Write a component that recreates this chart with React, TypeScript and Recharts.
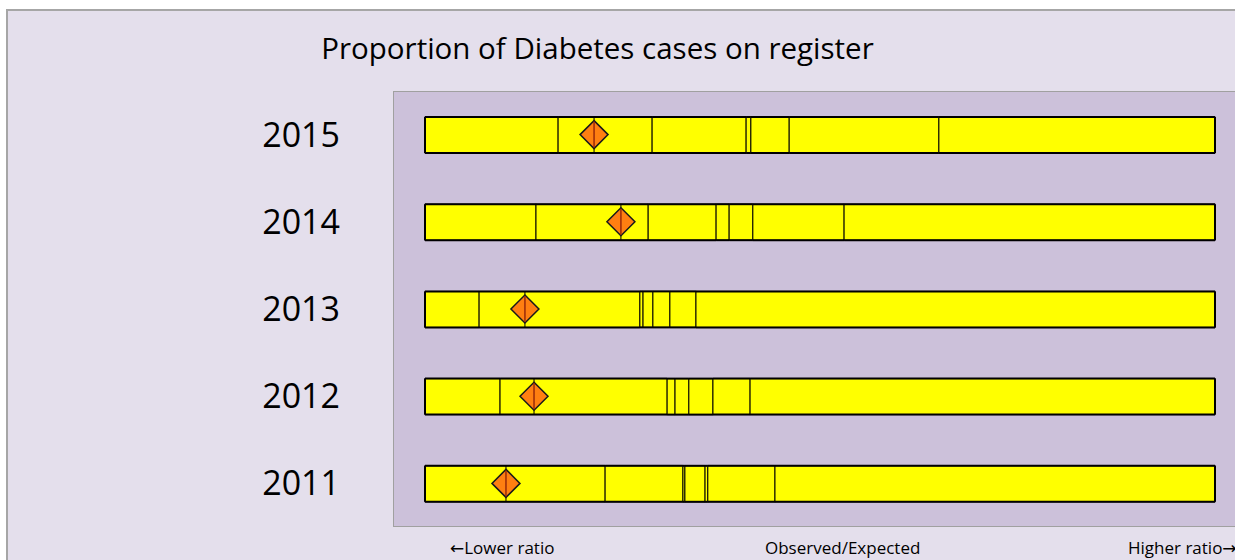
import { ComposedChart, Bar, Line, XAxis, YAxis, CartesianGrid } from 'recharts';

// rows top to bottom
const years = ['2015', '2014', '2013', '2012', '2011'];

// segment boundaries (observed/expected ratio), one array per boundary
const limit1 = [0.337, 0.281, 0.137, 0.19, 0.456];
const limit2 = [0.575, 0.565, 0.544, 0.613, 0.653];
const limit3 = [0.813, 0.737, 0.552, 0.633, 0.658];
const limit4 = [0.825, 0.77, 0.577, 0.668, 0.709];
const limit5 = [0.922, 0.83, 0.62, 0.729, 0.716];
const limit6 = [1.301, 1.061, 0.686, 0.823, 0.886];
const upperEnd = [2, 2, 2, 2, 2];

// practice value (diamond)
const observed = [0.428, 0.496, 0.253, 0.276, 0.205];

const bounds = [limit1, limit2, limit3, limit4, limit5, limit6, upperEnd];
const segKeys = ['s1', 's2', 's3', 's4', 's5', 's6', 's7'];

const data = years.map((year, i) => {
  const row: Record<string, number | string> = { year, observed: observed[i] };
  let prev = 0;
  bounds.forEach((b, k) => {
    row[segKeys[k]] = b[i] - prev;
    prev = b[i];
  });
  return row;
});

const FONT = '"Open Sans", "DejaVu Sans", sans-serif';

// segment with a heavier outline along the outside of the whole bar
function segmentShape(first: boolean, last: boolean) {
  return (props: any) => {
    const { x, y, width, height } = props;
    if (width == null || height == null) return null;
    return (
      <g>
        <rect x={x} y={y} width={width} height={height} fill="#FFFF00" stroke="#000" strokeWidth={1} />
        <line x1={x} x2={x + width} y1={y} y2={y} stroke="#000" strokeWidth={2} />
        <line x1={x} x2={x + width} y1={y + height} y2={y + height} stroke="#000" strokeWidth={2} />
        {first && <line x1={x} x2={x} y1={y} y2={y + height} stroke="#000" strokeWidth={2} />}
        {last && <line x1={x + width} x2={x + width} y1={y} y2={y + height} stroke="#000" strokeWidth={2} />}
      </g>
    );
  };
}

function Diamond(props: any) {
  const { cx, cy } = props;
  if (cx == null || cy == null) return null;
  const w = 14;
  const h = 14;
  return (
    <g key={`d-${cx}-${cy}`}>
      <line x1={cx} x2={cx} y1={cy - 18} y2={cy + 18} stroke="#000" strokeWidth={1} />
      <path
        d={`M${cx},${cy - h} L${cx + w},${cy} L${cx},${cy + h} L${cx - w},${cy} Z`}
        fill="#FF7F11"
        stroke="#1a1a1a"
        strokeWidth={1.5}
      />
      <line x1={cx} x2={cx} y1={cy - h + 1} y2={cy + h - 1} stroke="#9A2A0A" strokeWidth={1.5} />
    </g>
  );
}

function YearTick(props: any) {
  const { x, y, payload } = props;
  return (
    <text x={x} y={y} dy={12} textAnchor="end" fontSize={34} fontFamily={FONT} fill="#000">
      {payload.value}
    </text>
  );
}

const noteStyle = {
  position: 'absolute' as const,
  top: 536,
  fontFamily: FONT,
  fontSize: 17,
  color: '#000',
  whiteSpace: 'nowrap' as const,
};

export default function App() {
  return (
    <div style={{ position: 'fixed', left: 0, top: 0, width: 1235, height: 560, overflow: 'hidden', background: '#fff' }}>
      <div
        style={{
          position: 'absolute',
          left: 6,
          top: 9,
          width: 1260,
          height: 560,
          background: '#E4DFEC',
          borderTop: '2px solid #A6A6A6',
          borderLeft: '2px solid #A6A6A6',
          boxSizing: 'border-box',
        }}
      />
      <div
        style={{
          position: 'absolute',
          left: 393,
          top: 91,
          width: 900,
          height: 436,
          background: '#CCC1DA',
          borderTop: '1px solid #A0A0A0',
          borderLeft: '1px solid #A0A0A0',
          borderBottom: '1px solid #A0A0A0',
          boxSizing: 'border-box',
        }}
      />
      <div
        style={{
          position: 'absolute',
          left: 0,
          top: 27,
          width: 1195,
          textAlign: 'center',
          fontFamily: FONT,
          fontSize: 29.5,
          color: '#000',
        }}
      >
        Proportion of Diabetes cases on register
      </div>
      <div style={{ position: 'absolute', left: 6, top: 9 }}>
        <ComposedChart
          width={1249}
          height={551}
          data={data}
          layout="vertical"
          margin={{ top: 82, right: 0, bottom: 33, left: 287 }}
          barCategoryGap={0}
        >
          <CartesianGrid horizontal={false} vertical={false} />
          <XAxis type="number" domain={[0, 2]} hide padding={{ left: 32, right: 40 }} />
          <YAxis
            type="category"
            dataKey="year"
            width={100}
            axisLine={false}
            tickLine={false}
            tickSize={0}
            tickMargin={53}
            tick={<YearTick />}
          />
          {segKeys.map((k, i) => (
            <Bar
              key={k}
              dataKey={k}
              stackId="a"
              fill="#FFFF00"
              barSize={36}
              shape={segmentShape(i === 0, i === segKeys.length - 1)}
              isAnimationActive={false}
            />
          ))}
          <Line dataKey="observed" stroke="none" dot={<Diamond />} activeDot={false} isAnimationActive={false} />
        </ComposedChart>
      </div>
      <div style={{ ...noteStyle, left: 450 }}>←Lower ratio</div>
      <div style={{ ...noteStyle, left: 765 }}>Observed/Expected</div>
      <div style={{ ...noteStyle, left: 1128 }}>Higher ratio→</div>
    </div>
  );
}
